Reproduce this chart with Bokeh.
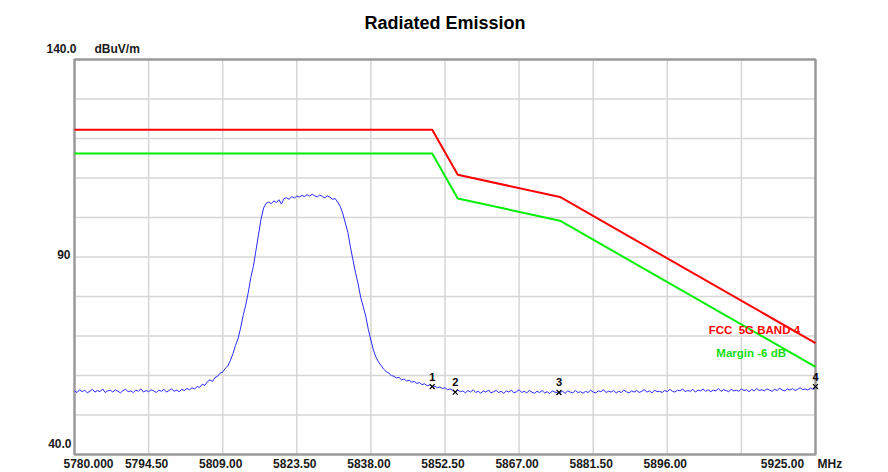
from bokeh.plotting import figure
from bokeh.models import Label, LabelSet, ColumnDataSource, Range1d
from bokeh.core.properties import value
from bokeh.embed import file_html
from bokeh.resources import INLINE

# ---------------- data ----------------
TITLE = "Radiated Emission"
Y_UNIT = "dBuV/m"
X_UNIT = "MHz"

X_TICKS = [5780.0, 5794.5, 5809.0, 5823.5, 5838.0, 5852.5, 5867.0, 5881.5, 5896.0, 5910.5, 5925.0]
X_TICK_LABELS = ["5780.000", "5794.50", "5809.00", "5823.50", "5838.00", "5852.50",
                 "5867.00", "5881.50", "5896.00", "", "5925.00"]
Y_GRID = [40, 50, 60, 70, 80, 90, 100, 110, 120, 130, 140]
Y_TICKS = [140, 90, 40]
Y_TICK_LABELS = ["140.0", "90", "40.0"]

# measured spectrum, 0.5 MHz steps from 5780 MHz
SPEC_START = 5780.0
SPEC_STEP = 0.5
SPEC_LEVEL = [
    56.1, 55.7, 56.4, 55.9, 56.3, 55.6, 56.0, 56.5, 55.8, 56.2,
    55.9, 56.6, 55.7, 56.1, 56.3, 55.8, 56.4, 56.0, 55.6, 56.2,
    56.5, 55.9, 56.1, 55.7, 56.3, 56.0, 56.6, 55.8, 56.2, 55.9,
    56.4, 56.1, 55.7, 56.3, 56.0, 56.5, 55.8, 56.2, 56.6, 56.0,
    56.3, 55.9, 56.5, 56.2, 56.7, 56.4, 56.9, 56.6, 57.2, 57.0,
    57.8, 57.5, 58.4, 58.9, 58.5, 59.5, 59.8, 60.6, 60.9, 61.8,
    62.4, 63.8, 65.5, 67.6, 69.3, 72.0, 75.2, 77.8, 81.0, 84.8,
    87.6, 91.6, 95.6, 99.6, 102.4, 103.6, 103.9, 103.5, 104.2, 103.8,
    104.5, 103.4, 104.8, 105.0, 104.6, 105.3, 104.9, 105.4, 105.2, 105.6,
    105.3, 105.8, 105.4, 105.9, 105.5, 105.2, 105.7, 105.3, 105.0, 105.5,
    105.1, 104.6, 104.8, 103.9, 102.8, 101.0, 98.6, 96.2, 92.5, 89.2,
    86.0, 83.2, 79.8, 77.4, 75.0, 71.6, 69.0, 66.4, 64.6, 63.4,
    62.5, 61.6, 61.0, 60.6, 60.0, 59.8, 59.4, 59.5, 58.9, 59.1,
    58.6, 58.8, 58.3, 58.5, 58.0, 58.2, 57.7, 57.9, 57.4, 57.6,
    57.2, 57.3, 56.9, 57.1, 56.7, 56.9, 56.4, 56.6, 56.2, 55.8,
    56.3, 55.9, 56.1, 55.6, 56.2, 55.8, 56.4, 55.7, 56.0, 55.5,
    56.1, 55.8, 56.3, 55.6, 55.9, 56.2, 55.7, 56.0, 55.5, 56.1,
    55.8, 56.3, 55.6, 55.9, 56.4, 55.7, 56.0, 55.6, 56.2, 55.8,
    55.5, 56.0, 55.7, 56.2, 55.6, 55.9, 55.4, 56.1, 55.8, 55.6,
    55.7, 56.0, 55.5, 56.1, 55.8, 55.6, 56.2, 55.7, 55.9, 55.5,
    56.0, 55.7, 56.3, 55.8, 55.6, 56.1, 55.9, 56.4, 55.7, 56.0,
    55.8, 56.2, 55.6, 56.0, 55.7, 56.3, 55.9, 55.6, 56.1, 55.8,
    56.2, 55.7, 56.0, 56.4, 55.8, 56.1, 55.6, 56.3, 55.9, 56.0,
    55.7, 56.2, 55.9, 56.5, 56.0, 55.8, 56.3, 56.1, 56.6, 55.9,
    56.2, 56.0, 56.5, 55.8, 56.3, 56.1, 56.6, 56.0, 56.4, 55.9,
    56.3, 56.1, 56.7, 56.0, 56.4, 56.2, 55.9, 56.5, 56.1, 56.3,
    56.0, 56.6, 56.2, 56.4, 55.9, 56.5, 56.1, 56.7, 56.2, 56.4,
    56.1, 56.6, 56.3, 56.0, 56.5, 56.2, 56.8, 56.3, 56.1, 56.6,
    56.3, 56.7, 56.2, 56.5, 56.9, 56.4, 56.6, 56.3, 56.8, 56.5,
    57.0,
]
SPEC_FREQ = [SPEC_START + SPEC_STEP * i for i in range(len(SPEC_LEVEL))]

LIMIT_NAME = "FCC  5G BAND 4"
LIMIT_FREQ = [5780.0, 5850.0, 5855.0, 5875.0, 5925.0]
LIMIT_LEVEL = [122.2, 122.2, 110.8, 105.2, 68.2]

MARGIN_NAME = "Margin -6 dB"
MARGIN_FREQ = [5780.0, 5850.0, 5855.0, 5875.0, 5925.0]
MARGIN_LEVEL = [116.2, 116.2, 104.8, 99.2, 62.2]

MARK_ID = ["1", "2", "3", "4"]
MARK_FREQ = [5850.0, 5854.5, 5874.8, 5925.0]
MARK_LEVEL = [57.2, 55.8, 55.7, 57.2]

# ---------------- layout (pixels) ----------------
W, H = 888, 472
FL, FR, FT, FB = 74, 815, 59, 454       # plotting box edges in the canvas
x0, x1 = X_TICKS[0], X_TICKS[-1]
y0, y1 = Y_GRID[0], Y_GRID[-1]
sx = (x1 - x0) / (FR - FL)
sy = (y1 - y0) / (FB - FT)
x_range = Range1d(x0 - FL * sx, x1 + (W - FR) * sx)
y_range = Range1d(y0 - (H - FB) * sy, y1 + FT * sy)

FONT = "Liberation Sans"

p = figure(width=W, height=H, x_range=x_range, y_range=y_range,
           output_backend="svg", toolbar_location=None,
           min_border=0, min_border_left=0, min_border_right=0,
           min_border_top=0, min_border_bottom=0)
p.xaxis.visible = False
p.yaxis.visible = False
p.xgrid.visible = False
p.ygrid.visible = False
p.outline_line_color = None
p.background_fill_color = "white"
p.border_fill_color = "white"

# grid lines inside the plotting box
gx = X_TICKS[1:-1]
p.segment(x0=gx, y0=[y0] * len(gx), x1=gx, y1=[y1] * len(gx), line_color="#d6d6d6", line_width=1.5)
gy = Y_GRID[1:-1]
p.segment(x0=[x0] * len(gy), y0=gy, x1=[x1] * len(gy), y1=gy, line_color="#d6d6d6", line_width=1.5)

# box
p.quad(left=[x0], right=[x1], bottom=[y0], top=[y1], fill_color=None,
       line_color="#9a9a9a", line_width=2.5)

p.line(LIMIT_FREQ, LIMIT_LEVEL, line_color="#ff0000", line_width=2)
p.line(MARGIN_FREQ, MARGIN_LEVEL, line_color="#00ee00", line_width=2)
p.line(SPEC_FREQ, SPEC_LEVEL, line_color="#2a2aff", line_width=1)

msrc = ColumnDataSource(dict(f=MARK_FREQ, l=MARK_LEVEL, t=MARK_ID))
p.scatter("f", "l", source=msrc, marker="x", size=7, line_color="black", line_width=1.2)
p.add_layout(LabelSet(x="f", y="l", text="t", source=msrc, y_offset=10,
                      text_font=value(FONT), text_font_size="11px", text_font_style="bold",
                      text_align="center", text_baseline="middle", text_color="black"))


def lab(x, y, text, **kw):
    opts = dict(text_font=FONT, text_font_style="bold", text_font_size="12px",
                text_baseline="middle", text_color="#1a1a1a")
    opts.update(kw)
    p.add_layout(Label(x=x, y=y, text=text, **opts))


# title
lab((x0 + x1) / 2, y1, TITLE, text_font_size="18px", text_align="center",
    y_offset=37, text_color="black")

# x tick labels
for i, (t, s) in enumerate(zip(X_TICKS, X_TICK_LABELS)):
    if not s:
        continue
    xo = -2
    if i == 0:
        xo = 14
    elif i == len(X_TICKS) - 1:
        xo = -33
    lab(t, y0, s, text_align="center", x_offset=xo, y_offset=-9)
lab(x1, y0, X_UNIT, text_align="left", x_offset=2, y_offset=-9)

# y tick labels
y_off = {140: (2, 11), 90: (-4, 3), 40: (-3, 11)}
for t, s in zip(Y_TICKS, Y_TICK_LABELS):
    xo, yo = y_off[t]
    lab(x0, t, s, text_align="right", x_offset=xo, y_offset=yo)
lab(x0, y1, Y_UNIT, text_align="left", x_offset=20, y_offset=11)

# legend texts near the line ends
lab(5904.1, 71.6, LIMIT_NAME.replace("  ", "\u00a0\u00a0"), text_color="#ff0000",
    text_font_size="11.5px", text_align="left")
lab(5905.6, 65.6, MARGIN_NAME, text_color="#11dd11", text_font_size="11.5px", text_align="left")

open("out.html", "w").write(file_html(p, INLINE))
